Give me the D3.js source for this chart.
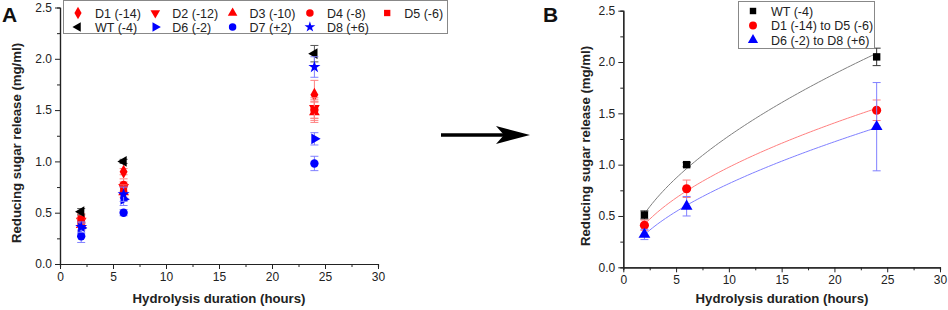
<!DOCTYPE html>
<html>
<head>
<meta charset="utf-8">
<script src="https://cdn.jsdelivr.net/npm/d3@7"></script>
<style>
body { margin: 0; background: #fff; }
svg { display: block; font-family: "Liberation Sans", Arial, sans-serif; }
</style>
</head>
<body>
<svg id="chart" width="948" height="310"></svg>
<script>
// hours sampled
const hours = [2, 6, 24];

// panel A: individual lines
const seriesA = ["D1 (-14)", "D2 (-12)", "D3 (-10)", "D4 (-8)", "D5 (-6)", "WT (-4)", "D6 (-2)", "D7 (+2)", "D8 (+6)"];
const valuesA = [
	[0.45, 0.90, 1.65],
	[0.42, 0.75, 1.52],
	[0.38, 0.70, 1.48],
	[0.40, 0.77, 1.50],
	[0.44, 0.73, 1.50],
	[0.51, 1.00, 2.05],
	[0.35, 0.63, 1.22],
	[0.27, 0.50, 0.98],
	[0.36, 0.68, 1.92]
];
const errorsA = [
	[0.04, 0.03, 0.14],
	[0.05, 0.05, 0.10],
	[0.05, 0.05, 0.10],
	[0.04, 0.06, 0.08],
	[0.05, 0.04, 0.10],
	[0.03, 0.02, 0.08],
	[0.05, 0.06, 0.06],
	[0.06, 0.03, 0.07],
	[0.05, 0.07, 0.10]
];

// panel B: grouped means
const seriesB = ["WT (-4)", "D1 (-14) to D5 (-6)", "D6 (-2) to D8 (+6)"];
const valuesB = [
	[0.51, 1.00, 2.05],
	[0.41, 0.765, 1.53],
	[0.32, 0.595, 1.37]
];
const errorsB = [
	[0.04, 0.02, 0.085],
	[0.05, 0.085, 0.10],
	[0.05, 0.095, 0.43]
];

const xTicks = [0, 5, 10, 15, 20, 25, 30];
const yTicks = [0, 0.5, 1.0, 1.5, 2.0, 2.5];

// styles
const styleA = [
	{color: "#ff0000", err: "#ff8080", sym: d3.symbolDiamond, rot: 0, size: 55},
	{color: "#ff0000", err: "#ff8080", sym: d3.symbolTriangle, rot: 180, size: 50},
	{color: "#ff0000", err: "#ff8080", sym: d3.symbolTriangle, rot: 0, size: 50},
	{color: "#ff0000", err: "#ff8080", sym: d3.symbolCircle, rot: 0, size: 55},
	{color: "#ff0000", err: "#ff8080", sym: d3.symbolSquare, rot: 0, size: 50},
	{color: "#000000", err: "#555555", sym: d3.symbolTriangle, rot: -90, size: 50},
	{color: "#0000ff", err: "#8080ff", sym: d3.symbolTriangle, rot: 90, size: 50},
	{color: "#0000ff", err: "#8080ff", sym: d3.symbolCircle, rot: 0, size: 55},
	{color: "#0000ff", err: "#8080ff", sym: d3.symbolStar, rot: 0, size: 45}
];
const styleB = [
	{color: "#000000", err: "#333333", line: "#808080", sym: d3.symbolSquare, rot: 0, size: 55},
	{color: "#ff0000", err: "#ff8080", line: "#ff8080", sym: d3.symbolCircle, rot: 0, size: 65},
	{color: "#0000ff", err: "#8080ff", line: "#8080ff", sym: d3.symbolTriangle, rot: 0, size: 60}
];

const svg = d3.select("#chart");

function drawAxes(g, x, y, xTitleX, yTitleX, yTitleY) {
	const xAxis = d3.axisBottom(x).tickValues(xTicks).tickSize(5).tickSizeOuter(0).tickFormat(d3.format("d"));
	const xMinor = d3.axisBottom(x).tickValues(d3.range(2.5, 30, 5)).tickSize(3).tickFormat("");
	const yAxis = d3.axisLeft(y).tickValues(yTicks).tickSize(5).tickSizeOuter(0).tickFormat(d3.format(".1f"));
	const yMinor = d3.axisLeft(y).tickValues(d3.range(0.25, 2.5, 0.5)).tickSize(3).tickFormat("");

	const h = y.range()[0];
	[g.append("g").attr("transform", `translate(0,${h})`).call(xAxis),
	 g.append("g").attr("transform", `translate(0,${h})`).call(xMinor),
	 g.append("g").attr("transform", `translate(${x.range()[0]},0)`).call(yAxis),
	 g.append("g").attr("transform", `translate(${x.range()[0]},0)`).call(yMinor)].forEach(a => {
		a.select(".domain").attr("stroke", "#222").attr("stroke-width", 1.2);
		a.selectAll(".tick line").attr("stroke", "#222");
		a.selectAll(".tick text").attr("font-family", "Liberation Sans, Arial, sans-serif").attr("font-size", 12).attr("fill", "#222");
	});

	g.append("text")
		.attr("x", xTitleX).attr("y", 303)
		.attr("text-anchor", "middle")
		.attr("font-size", 13.2).attr("font-weight", "bold").attr("fill", "#222")
		.text("Hydrolysis duration (hours)");
	g.append("text")
		.attr("transform", `translate(${yTitleX},${yTitleY}) rotate(-90)`)
		.attr("text-anchor", "middle")
		.attr("font-size", 13.2).attr("font-weight", "bold").attr("fill", "#222")
		.text("Reducing sugar release (mg/ml)");
}

function drawPoints(g, x, y, vals, errs, st) {
	const grp = g.append("g");
	hours.forEach((hr, i) => {
		const cx = x(hr), e = errs[i];
		grp.append("line")
			.attr("x1", cx).attr("x2", cx)
			.attr("y1", y(vals[i] - e)).attr("y2", y(vals[i] + e))
			.attr("stroke", st.err).attr("stroke-width", 1);
		[vals[i] - e, vals[i] + e].forEach(v => {
			grp.append("line")
				.attr("x1", cx - 4).attr("x2", cx + 4)
				.attr("y1", y(v)).attr("y2", y(v))
				.attr("stroke", st.err).attr("stroke-width", 1);
		});
	});
	grp.selectAll("path.pt")
		.data(hours.map((hr, i) => [hr, vals[i]]))
		.join("path")
		.attr("class", "pt")
		.attr("d", d3.symbol().type(st.sym).size(st.size))
		.attr("transform", d => `translate(${x(d[0])},${y(d[1])}) rotate(${st.rot})`)
		.attr("fill", st.color);
}

// ---------- panel A ----------
const xA = d3.scaleLinear().domain([0, 30]).range([60, 378]);
const yA = d3.scaleLinear().domain([0, 2.5]).range([264, 7.5]);
const gA = svg.append("g");
drawAxes(gA, xA, yA, 219, 21, 143);
seriesA.forEach((s, i) => drawPoints(gA, xA, yA, valuesA[i], errorsA[i], styleA[i]));

// legend A
const legA = gA.append("g");
legA.append("rect")
	.attr("x", 63.5).attr("y", 0.5).attr("width", 384).attr("height", 33)
	.attr("fill", "#fff").attr("stroke", "#888").attr("stroke-width", 1);
seriesA.forEach((s, i) => {
	const col = i < 5 ? i : i - 5;
	const row = i < 5 ? 0 : 1;
	const lx = 78 + col * 77.3, ly = 13 + row * 14;
	legA.append("path")
		.attr("d", d3.symbol().type(styleA[i].sym).size(styleA[i].size * 0.8))
		.attr("transform", `translate(${lx},${ly}) rotate(${styleA[i].rot})`)
		.attr("fill", styleA[i].color);
	legA.append("text")
		.attr("x", lx + 17).attr("y", ly + 4.5)
		.attr("font-size", 12.5).attr("fill", "#222")
		.text(s);
});

svg.append("text")
	.attr("x", 2).attr("y", 22)
	.attr("font-size", 21).attr("font-weight", "bold").attr("fill", "#111")
	.text("A");

// ---------- arrow ----------
svg.append("line")
	.attr("x1", 441).attr("x2", 505).attr("y1", 135).attr("y2", 135)
	.attr("stroke", "#000").attr("stroke-width", 3.5);
svg.append("path")
	.attr("d", "M530,135 L496,126 L504,135 L496,144 Z")
	.attr("fill", "#000");

// ---------- panel B ----------
const xB = d3.scaleLinear().domain([0, 30]).range([623.3, 940]);
const yB = d3.scaleLinear().domain([0, 2.5]).range([267.3, 10.7]);
const gB = svg.append("g");
drawAxes(gB, xB, yB, 782, 590, 146);

// allometric fit y = a*x^b (least squares on log scale)
function powerFit(vals) {
	const lx = hours.map(Math.log), ly = vals.map(Math.log);
	const mx = d3.mean(lx), my = d3.mean(ly);
	const b = d3.sum(lx, (v, i) => (v - mx) * (ly[i] - my)) / d3.sum(lx, v => (v - mx) * (v - mx));
	const a = Math.exp(my - b * mx);
	return t => a * Math.pow(t, b);
}
const fitLine = d3.line().x(d => xB(d[0])).y(d => yB(d[1]));
seriesB.forEach((s, i) => {
	const f = powerFit(valuesB[i]);
	const pts = d3.range(2, 24.01, 0.25).map(t => [t, f(t)]);
	gB.append("path")
		.attr("d", fitLine(pts))
		.attr("fill", "none")
		.attr("stroke", styleB[i].line)
		.attr("stroke-width", 1);
});
seriesB.forEach((s, i) => drawPoints(gB, xB, yB, valuesB[i], errorsB[i], styleB[i]));

// legend B
const legB = gB.append("g");
legB.append("rect")
	.attr("x", 738.5).attr("y", 1.5).attr("width", 136).attr("height", 47)
	.attr("fill", "#fff").attr("stroke", "#888").attr("stroke-width", 1);
seriesB.forEach((s, i) => {
	const lx = 753, ly = 11 + i * 14.5;
	legB.append("path")
		.attr("d", d3.symbol().type(styleB[i].sym).size(styleB[i].size * 0.75))
		.attr("transform", `translate(${lx},${ly}) rotate(${styleB[i].rot})`)
		.attr("fill", styleB[i].color);
	legB.append("text")
		.attr("x", lx + 18).attr("y", ly + 4.5)
		.attr("font-size", 12.5).attr("fill", "#222")
		.text(s);
});

svg.append("text")
	.attr("x", 543).attr("y", 22)
	.attr("font-size", 21).attr("font-weight", "bold").attr("fill", "#111")
	.text("B");
</script>
</body>
</html>
